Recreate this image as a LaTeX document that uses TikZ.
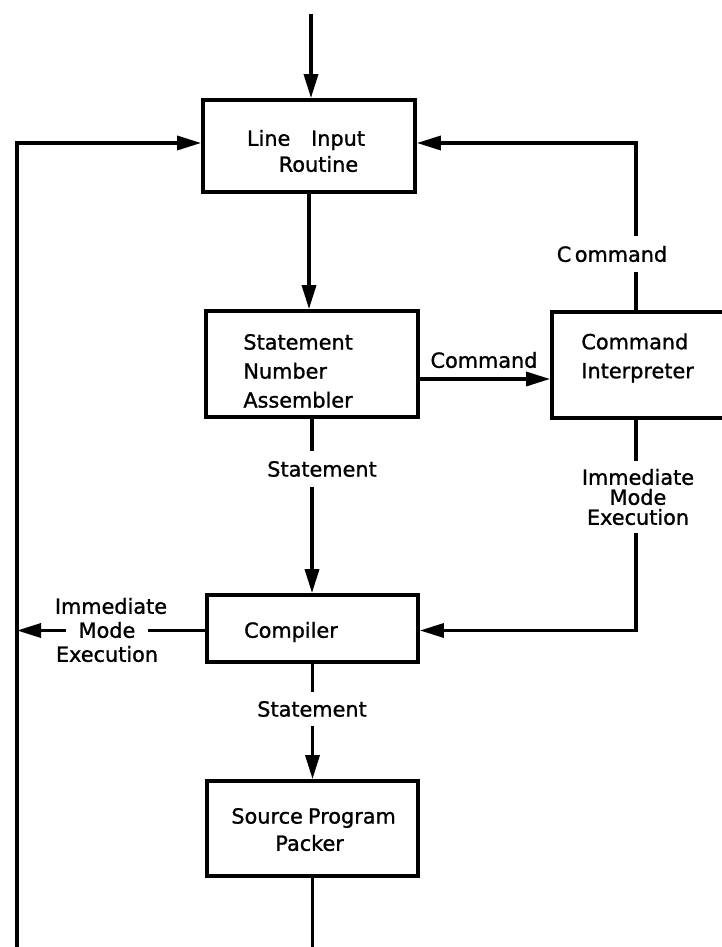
\documentclass[tikz,border=0pt]{standalone}
\usepackage{fontspec}
\setmainfont[FakeBold=1.2]{DejaVu Sans}
\usetikzlibrary{arrows.meta}
\begin{document}
\begin{tikzpicture}[x=0.5pt,y=-0.5pt,
  box/.style={draw, line width=1.9pt, inner sep=0pt},
  txt/.style={inner sep=0pt, font=\fontsize{10.4}{14.5}\selectfont},
  lbl/.style={inner xsep=2pt, inner ysep=5pt, font=\fontsize{10.4}{10}\selectfont},
  wire/.style={line width=1.7pt},
  arr/.style={wire, -{Triangle[length=12pt,width=7pt]}}]

% page frame
\useasboundingbox (0,0) rectangle (722,947);
\clip (0,0) rectangle (722,947);
\fill[white] (0,0) rectangle (722,947);

% fixed points of the outer lines
\coordinate (start) at (311,14);
\coordinate (lb) at (17,960);
\coordinate (cix) at (636,0);

% blocks
\node[box, minimum width=106pt, minimum height=46pt] (lir) at (309,146) {};
\node[txt, align=center, font=\fontsize{10.4}{13}\selectfont] (lirT) at (306,151) {Line\hspace{1em}Input\\\hspace{1.2em}Routine};

\node[box, minimum width=106pt, minimum height=53pt] (sna) at (312,364) {};
\node[txt, align=left, anchor=west] (snaT) at (243,371) {Statement\\Number\\Assembler};

\node[box, minimum width=115pt, minimum height=53pt] (ci) at (667,365) {};
\node[txt, align=left, anchor=west] (ciT) at (581,358) {Command\\Interpreter};

\node[box, minimum width=105.5pt, minimum height=33.5pt] (cmp) at (312.5,628.5) {};
\node[txt] (cmpT) at (291,632) {Compiler};

\node[box, minimum width=105.5pt, minimum height=47.5pt] (spp) at (312.5,828.5) {};
\node[txt, anchor=west] (sppA) at (231,818) {Source\hspace{0.25em}Program};
\node[txt, anchor=west] (sppB) at (275,843) {Packer};

% labels on the connectors
\node[lbl] (cmdTop) at (612,254) {C\,ommand};
\node[lbl, inner ysep=2pt] (cmdMid) at (484,360) {Command};
\node[lbl] (stmt1) at (322,469) {Statement};
\node[lbl, inner ysep=4.5pt] (stmt2) at (312,709) {Statement};
\node[lbl, align=center, inner ysep=4pt] (immR) at (638,497) {Immediate\\Mode\\Execution};
\node[lbl, inner sep=0pt] (immL) at (111,606) {Immediate};
\node[lbl, inner xsep=6pt, inner ysep=0pt] (modeL) at (107,630) {Mode};
\node[lbl, inner sep=0pt] (execL) at (107,654) {Execution};

% entry and main chain
\draw[arr] (start) -- (start |- lir.north);
\draw[arr] (lir.south) -- (lir.south |- sna.north);
\draw[wire] (sna.south) -- (sna.south |- stmt1.north);
\draw[arr] (sna.south |- stmt1.south) -- (sna.south |- cmp.north);
\draw[wire] (cmp.south) -- (cmp.south |- stmt2.north);
\draw[arr] (cmp.south |- stmt2.south) -- (spp.north);
\draw[wire] (spp.south) -- (spp.south |- lb);

% command branch
\draw[arr] ([yshift=-7.5pt]sna.east) -- ([yshift=-7pt]ci.west);
\draw[wire] (ci.north -| cix) -- (cmdTop.south -| cix);
\draw[arr] (cmdTop.north -| cix) |- ([yshift=1.5pt]lir.east);

% immediate mode execution from the interpreter
\draw[wire] (ci.south -| cix) -- (immR.north -| cix);
\draw[arr] (immR.south -| cix) |- ([yshift=-1pt]cmp.east);

% immediate mode execution from the compiler, and the return line
\draw[wire] ([yshift=-1pt]cmp.west) -- ([yshift=-1pt]cmp.west -| modeL.east);
\draw[arr] ([yshift=-1pt]cmp.west -| modeL.west) -- ([yshift=-1pt]cmp.west -| lb);
\draw[arr] (lb) |- ([yshift=1.5pt]lir.west);
\end{tikzpicture}
\end{document}
